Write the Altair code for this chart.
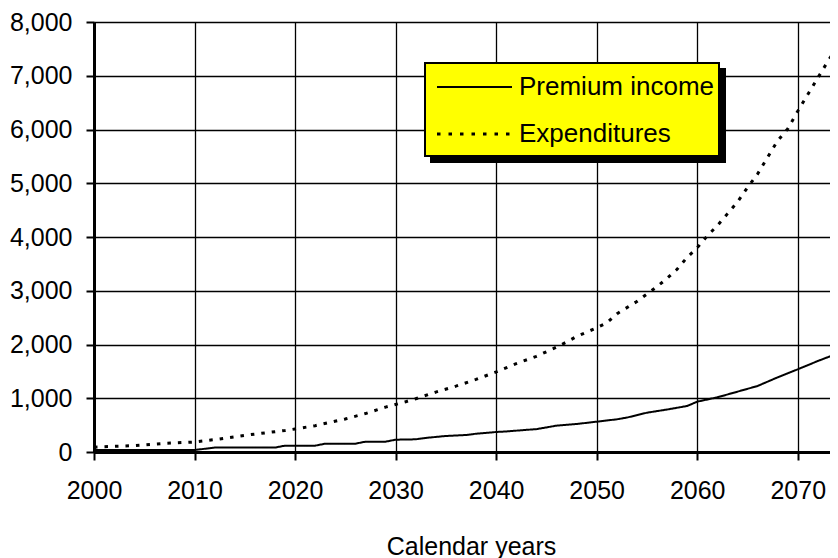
import altair as alt
import pandas as pd

# ---- data ----
series_names = ["Premium income", "Expenditures"]

exp_years = [2000, 2004, 2007, 2010, 2012, 2015, 2019, 2020, 2022, 2025, 2027, 2029,
             2031, 2032, 2034, 2036, 2038, 2040, 2042, 2044, 2046, 2047, 2048, 2050,
             2051, 2052, 2054, 2055, 2056, 2057, 2058, 2059, 2060, 2061, 2062, 2063,
             2064, 2065, 2066, 2067, 2068, 2069, 2070, 2071, 2072, 2073, 2074, 2075]
exp_values = [90, 120, 160, 186, 230, 310, 400, 428, 490, 615, 715, 835,
              935, 990, 1115, 1225, 1350, 1490, 1645, 1780, 1950, 2045, 2150, 2310,
              2400, 2570, 2800, 2940, 3075, 3230, 3400, 3620, 3800, 4020, 4210, 4430,
              4650, 4920, 5170, 5480, 5790, 6010, 6340, 6650, 6960, 7270, 7560, 7850]

prem_years = [2000, 2010, 2012, 2018, 2019, 2022, 2023, 2026, 2027, 2029, 2030, 2032,
              2033, 2035, 2037, 2038, 2040, 2041, 2043, 2044, 2046, 2048, 2050, 2052,
              2053, 2055, 2057, 2059, 2060, 2062, 2064, 2066, 2068, 2070, 2072, 2074, 2075]
prem_values = [35, 37, 82, 82, 118, 118, 155, 155, 192, 192, 229, 236,
               262, 298, 316, 340, 372, 382, 412, 425, 490, 521, 564, 608,
               640, 731, 790, 856, 936, 1017, 1122, 1228, 1389, 1538, 1693, 1836, 1910]

x_ticks = [2000, 2010, 2020, 2030, 2040, 2050, 2060, 2070]
y_ticks = [0, 1000, 2000, 3000, 4000, 5000, 6000, 7000, 8000]
x_title = "Calendar years"

df = pd.concat([
    pd.DataFrame({"year": prem_years, "value": prem_values, "series": series_names[0]}),
    pd.DataFrame({"year": exp_years, "value": exp_values, "series": series_names[1]}),
], ignore_index=True)

FONT = "Liberation Sans"
W, H = 754, 430

x_enc = alt.X("year:Q",
              scale=alt.Scale(domain=[2000, 2075], nice=False, zero=False),
              axis=alt.Axis(values=x_ticks, format="d", title=x_title,
                            labelPadding=18, labelFlush=False,
                            titleBaseline="alphabetic", titleY=102))
y_enc = alt.Y("value:Q",
              scale=alt.Scale(domain=[0, 8000], nice=False),
              axis=alt.Axis(values=y_ticks, format=",d", title=None, labelPadding=14))

lines = alt.Chart(df).mark_line(clip=True, color="black").encode(
    x=x_enc,
    y=y_enc,
    detail="series:N",
    strokeDash=alt.StrokeDash("series:N",
                              scale=alt.Scale(domain=series_names, range=[[1, 0], [3.5, 7]]),
                              legend=None),
    strokeWidth=alt.StrokeWidth("series:N",
                                scale=alt.Scale(domain=series_names, range=[2, 3]),
                                legend=None),
)

# ---- manual legend box (yellow with drop shadow) ----
shadow = alt.Chart().mark_rect(fill="black").encode(
    x=alt.value(336), x2=alt.value(632), y=alt.value(46), y2=alt.value(141))
box = alt.Chart().mark_rect(fill="#FFFF00", stroke="black", strokeWidth=2).encode(
    x=alt.value(331), x2=alt.value(625), y=alt.value(41), y2=alt.value(134))

legend_layers = []
row_y = [65, 112]
dashes = [[1, 0], [3.5, 8]]
widths = [2, 3]
for name, ry, d, w in zip(series_names, row_y, dashes, widths):
    legend_layers.append(
        alt.Chart().mark_rule(color="black", strokeDash=d, strokeWidth=w).encode(
            x=alt.value(343), x2=alt.value(418), y=alt.value(ry)))
    legend_layers.append(
        alt.Chart().mark_text(text=name, align="left", baseline="middle",
                              font=FONT, fontSize=26, color="black").encode(
            x=alt.value(425), y=alt.value(ry)))

chart = alt.layer(lines, shadow, box, *legend_layers).properties(
    width=W, height=H,
    autosize=alt.AutoSizeParams(type="none"),
    padding={"left": 86, "top": 14, "right": -18, "bottom": 112},
).configure_view(stroke=None).configure_axis(
    domainColor="black", domainWidth=3,
    tickColor="black", tickWidth=2, tickSize=8,
    grid=True, gridColor="black", gridWidth=1.3, gridOpacity=1,
    labelFont=FONT, labelFontSize=25, labelColor="black",
    titleFont=FONT, titleFontSize=25, titleColor="black", titleFontWeight="normal",
)

chart.save("out.html", embed_options={"renderer": "svg", "actions": False})
